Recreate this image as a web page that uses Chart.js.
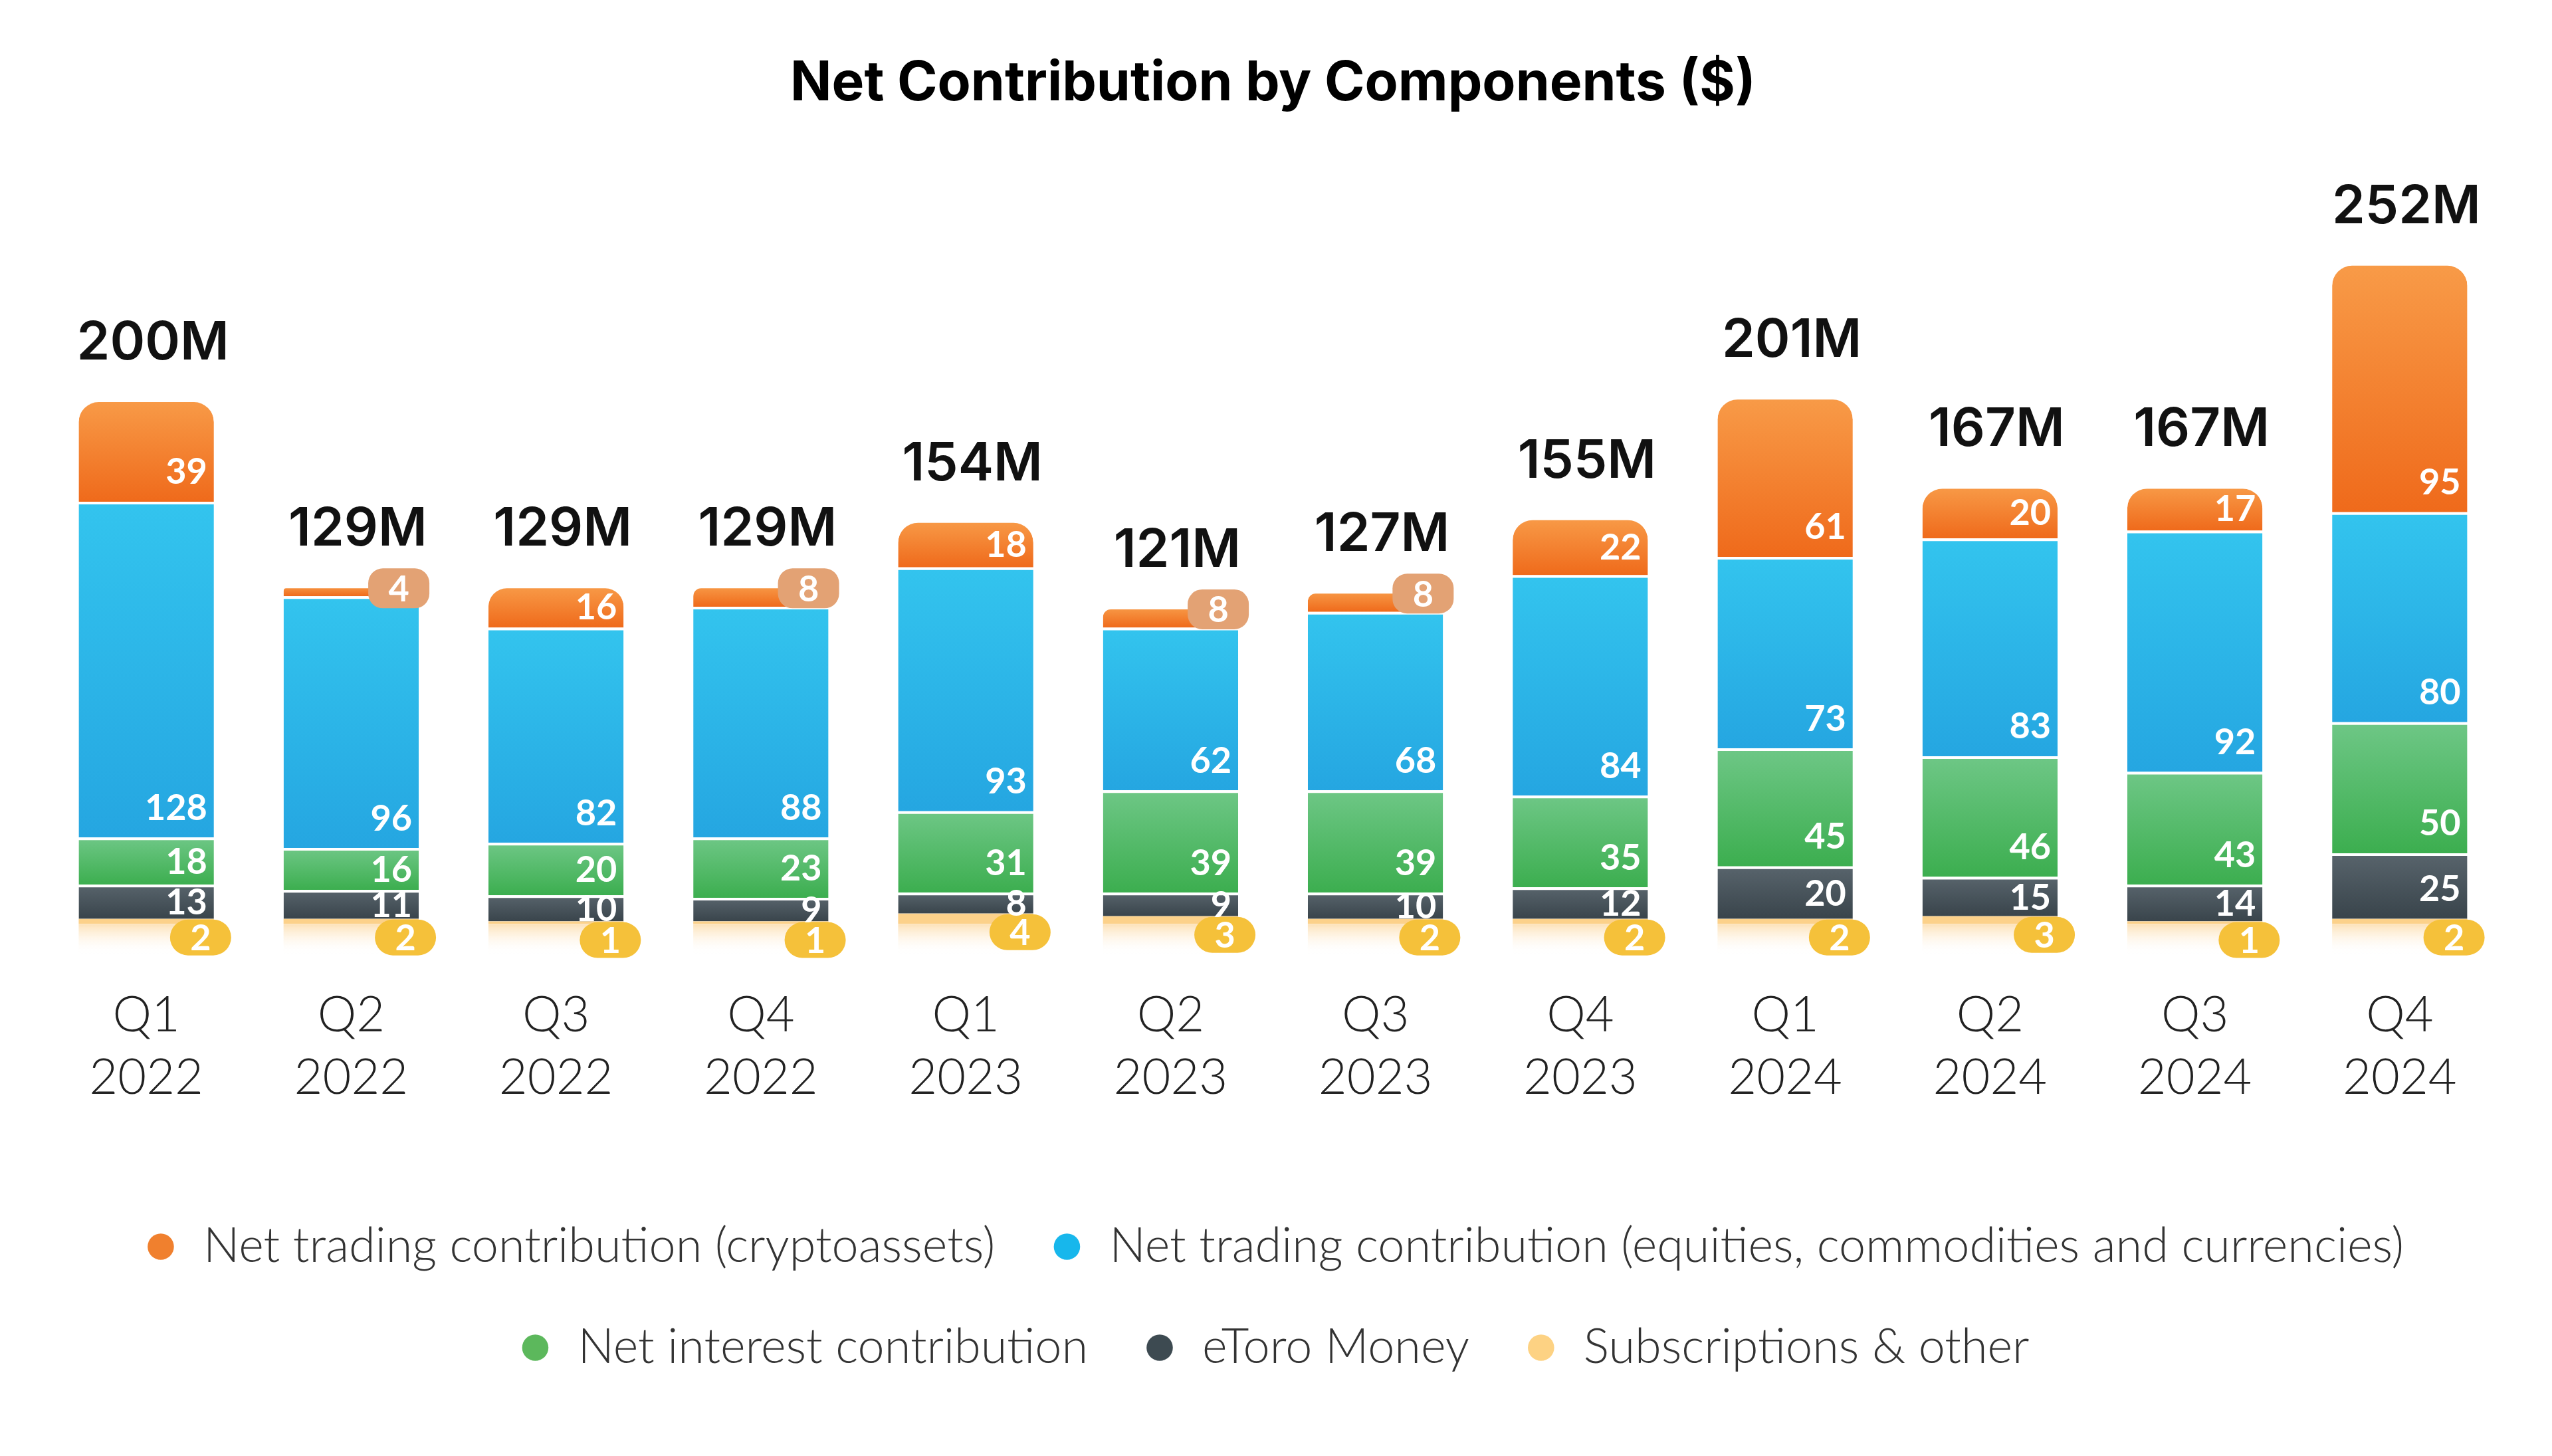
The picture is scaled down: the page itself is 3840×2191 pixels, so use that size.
<!DOCTYPE html>
<html>
<head>
<meta charset="utf-8">
<title>Net Contribution by Components ($)</title>
<script src="https://cdn.jsdelivr.net/npm/chart.js@4.4.1/dist/chart.umd.min.js"></script>
<style>
  html, body { margin: 0; padding: 0; background: #fff; }
  #wrap { width: 3840px; height: 2191px; }
</style>
</head>
<body>
<div id="wrap"><canvas id="contribChart"></canvas></div>
<script>
// Values ($M)
const quarters = ['Q1', 'Q2', 'Q3', 'Q4', 'Q1', 'Q2', 'Q3', 'Q4', 'Q1', 'Q2', 'Q3', 'Q4'];
const years = ['2022', '2022', '2022', '2022', '2023', '2023', '2023', '2023', '2024', '2024', '2024', '2024'];
const crypto = [39, 4, 16, 8, 18, 8, 8, 22, 61, 20, 17, 95];
const equities = [128, 96, 82, 88, 93, 62, 68, 84, 73, 83, 92, 80];
const interest = [18, 16, 20, 23, 31, 39, 39, 35, 45, 46, 43, 50];
const etoroMoney = [13, 11, 10, 9, 8, 9, 10, 12, 20, 15, 14, 25];
const subscriptions = [2, 2, 1, 1, 4, 3, 2, 2, 2, 3, 1, 2];
const totals = ['200M', '129M', '129M', '129M', '154M', '121M', '127M', '155M', '201M', '167M', '167M', '252M'];

const labels = quarters.map((q, i) => [q, years[i]]);

function roundRect(ctx, x, y, w, h, r) {
    ctx.beginPath();
    ctx.moveTo(x + r, y);
    ctx.arcTo(x + w, y, x + w, y + h, r);
    ctx.arcTo(x + w, y + h, x, y + h, r);
    ctx.arcTo(x, y + h, x, y, r);
    ctx.arcTo(x, y, x + w, y, r);
    ctx.closePath();
}

// vertical gradient per segment, from the y scale
function segmentFill(top, bottom, flat) {
    return function(context) {
        const chart = context.chart;
        const yScale = chart.scales.y;
        if (!chart.chartArea || !yScale || context.type !== 'data') return flat;
        const i = context.dataIndex;
        let low = 0;
        for (let k = 0; k < context.datasetIndex; k++) low += chart.data.datasets[k].data[i];
        const high = low + chart.data.datasets[context.datasetIndex].data[i];
        const y0 = yScale.getPixelForValue(high);
        const y1 = yScale.getPixelForValue(low);
        if (!isFinite(y0) || !isFinite(y1) || y0 === y1) return flat;
        const g = chart.ctx.createLinearGradient(0, y0, 0, y1);
        g.addColorStop(0, top);
        g.addColorStop(1, bottom);
        return g;
    };
}

// value labels, pills and totals
const barLabels = {
    id: 'barLabels',
    afterDatasetsDraw(chart) {
        const ctx = chart.ctx;
        ctx.save();

        // pale fade under each bar
        const subMeta = chart.getDatasetMeta(0);
        subMeta.data.forEach((bar) => {
            const p = bar.getProps(['x', 'y', 'base', 'width'], true);
            const g = ctx.createLinearGradient(0, p.base, 0, p.base + 46);
            g.addColorStop(0, 'rgba(252, 216, 160, 0.75)');
            g.addColorStop(1, 'rgba(255, 255, 255, 0)');
            ctx.fillStyle = g;
            ctx.fillRect(p.x - p.width / 2, p.base, p.width, 46);
        });

        chart.data.datasets.forEach((ds, di) => {
            const meta = chart.getDatasetMeta(di);
            meta.data.forEach((bar, i) => {
                const v = ds.data[i];
                const p = bar.getProps(['x', 'y', 'base', 'width'], true);
                const right = p.x + p.width / 2;
                const h = p.base - p.y;
                ctx.font = '700 54px Lato';
                ctx.textBaseline = 'middle';
                if (ds.labelKind === 'sub') {
                    const cy = p.y + 28;
                    const cx = right - 20;
                    ctx.fillStyle = '#f5c13a';
                    roundRect(ctx, cx - 46, cy - 27, 92, 54, 27);
                    ctx.fill();
                    ctx.fillStyle = '#ffffff';
                    ctx.textAlign = 'center';
                    ctx.fillText(String(v), cx, cy + 2);
                } else if (ds.labelKind === 'top' && v < 10) {
                    const cy = p.y + 4;
                    const cx = right - 30;
                    ctx.fillStyle = '#e3a274';
                    roundRect(ctx, cx - 46, cy - 30, 92, 60, 22);
                    ctx.fill();
                    ctx.fillStyle = '#ffffff';
                    ctx.textAlign = 'center';
                    ctx.fillText(String(v), cx, cy + 2);
                } else {
                    const cy = p.base - Math.min(46, h / 2);
                    ctx.fillStyle = '#ffffff';
                    ctx.textAlign = 'right';
                    ctx.fillText(String(v), right - 10, cy + 2);
                }
            });
        });

        // totals above stacks
        const topMeta = chart.getDatasetMeta(chart.data.datasets.length - 1);
        ctx.font = '600 80px Inter';
        ctx.fillStyle = '#111111';
        ctx.textAlign = 'center';
        ctx.textBaseline = 'middle';
        topMeta.data.forEach((bar, i) => {
            const p = bar.getProps(['x', 'y'], true);
            ctx.fillText(totals[i], p.x + 10, p.y - 84);
        });
        ctx.restore();
    }
};

const sep = {top: 4, right: 0, bottom: 0, left: 0};

const ctx = document.getElementById('contribChart').getContext('2d');
const contribChart = new Chart(ctx, {
    type: 'bar',
    data: {
        labels: labels,
        datasets: [
            {
                label: 'Subscriptions & other',
                data: subscriptions,
                backgroundColor: '#fcd18a',
                borderColor: '#ffffff',
                borderWidth: 0,
                borderRadius: 0,
                labelKind: 'sub'
            },
            {
                label: 'eToro Money',
                data: etoroMoney,
                backgroundColor: segmentFill('#58646c', '#39444b', '#414d55'),
                borderColor: '#ffffff',
                borderWidth: sep,
                borderRadius: 0,
                labelKind: 'in'
            },
            {
                label: 'Net interest contribution',
                data: interest,
                backgroundColor: segmentFill('#6ec786', '#3cae4f', '#56bb6b'),
                borderColor: '#ffffff',
                borderWidth: sep,
                borderRadius: 0,
                labelKind: 'in'
            },
            {
                label: 'Net trading contribution (equities, commodities and currencies)',
                data: equities,
                backgroundColor: segmentFill('#33c4ee', '#25a6e1', '#2bb3e8'),
                borderColor: '#ffffff',
                borderWidth: sep,
                borderRadius: 0,
                labelKind: 'in'
            },
            {
                label: 'Net trading contribution (cryptoassets)',
                data: crypto,
                backgroundColor: segmentFill('#f89b48', '#ef6a1b', '#f37f2e'),
                borderColor: '#ffffff',
                borderWidth: sep,
                borderRadius: 34,
                labelKind: 'top'
            }
        ]
    },
    options: {
        responsive: true,
        maintainAspectRatio: false,
        animation: false,
        layout: {
            padding: {top: 36, left: 66, right: 75, bottom: 117}
        },
        datasets: {
            bar: {
                barPercentage: 0.66,
                categoryPercentage: 1,
                borderSkipped: 'start'
            }
        },
        scales: {
            x: {
                stacked: true,
                grid: {display: false, drawTicks: false},
                border: {display: false},
                ticks: {
                    padding: 90,
                    color: '#222222',
                    font: {family: 'Lato', size: 74, weight: '300', lineHeight: 1.28}
                }
            },
            y: {
                stacked: true,
                display: false,
                min: 0,
                max: 300
            }
        },
        plugins: {
            title: {
                display: true,
                text: 'Net Contribution by Components ($)',
                color: '#000000',
                font: {family: 'Inter', size: 82, weight: '700'},
                padding: {top: 41, bottom: 31}
            },
            legend: {
                display: true,
                position: 'bottom',
                labels: {
                    usePointStyle: true,
                    pointStyle: 'circle',
                    boxWidth: 56,
                    boxHeight: 28,
                    padding: 80,
                    color: '#333333',
                    font: {family: 'Lato', size: 72, weight: '300'},
                    generateLabels: function(chart) {
                        const items = Chart.defaults.plugins.legend.labels.generateLabels(chart);
                        const swatch = ['#fdd283', '#3d4a51', '#5cb85c', '#17b7ec', '#f0802e'];
                        items.forEach((it) => {
                            it.lineWidth = 0;
                            it.strokeStyle = 'rgba(0,0,0,0)';
                            it.fillStyle = swatch[it.datasetIndex];
                        });
                        return items.reverse();
                    }
                }
            },
            tooltip: {enabled: false}
        }
    },
    plugins: [barLabels]
});
</script>
</body>
</html>
